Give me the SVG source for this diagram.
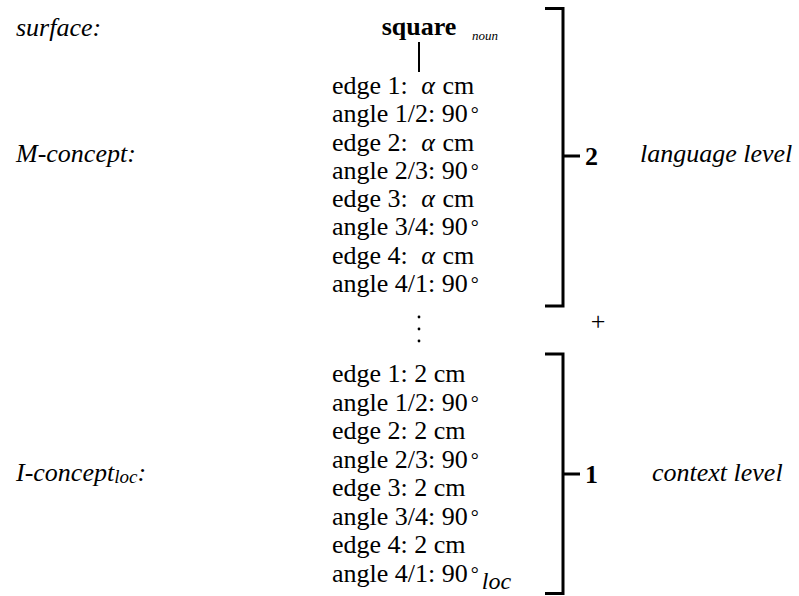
<svg xmlns="http://www.w3.org/2000/svg" width="799" height="596" viewBox="0 0 799 596">
<defs>
<style>
.br{fill:none;stroke:#000;stroke-width:3}
.ln{stroke:#000;stroke-width:2}
</style>
</defs>
<rect width="799" height="596" fill="#fff"/>
<g font-family="Liberation Serif" font-size="26" fill="#000">
<g id="labels" font-style="italic">
<text x="16" y="36">surface:</text>
<text x="16" y="162">M-concept:</text>
<text x="16" y="481">I-concept<tspan font-size="19" dy="2">loc</tspan><tspan dy="-2">:</tspan></text>
</g>
<g id="surface">
<text x="419" y="35" text-anchor="middle" font-weight="bold">square</text>
<text x="472" y="40" font-size="13" font-style="italic">noun</text>
</g>
<g id="m-concept">
<text x="332" y="94">edge 1: <tspan font-style="italic" dx="7">α</tspan><tspan dx="1"> cm</tspan></text>
<text x="332" y="122.3">angle 1/2: 90<tspan font-size="20" dx="3" dy="-1">°</tspan></text>
<text x="332" y="150.6">edge 2: <tspan font-style="italic" dx="7">α</tspan><tspan dx="1"> cm</tspan></text>
<text x="332" y="178.9">angle 2/3: 90<tspan font-size="20" dx="3" dy="-1">°</tspan></text>
<text x="332" y="207.1">edge 3: <tspan font-style="italic" dx="7">α</tspan><tspan dx="1"> cm</tspan></text>
<text x="332" y="235.4">angle 3/4: 90<tspan font-size="20" dx="3" dy="-1">°</tspan></text>
<text x="332" y="263.7">edge 4: <tspan font-style="italic" dx="7">α</tspan><tspan dx="1"> cm</tspan></text>
<text x="332" y="292">angle 4/1: 90<tspan font-size="20" dx="3" dy="-1">°</tspan></text>
</g>
<g id="i-concept">
<text x="332" y="382">edge 1: 2 cm</text>
<text x="332" y="410.5">angle 1/2: 90<tspan font-size="20" dx="3" dy="-1">°</tspan></text>
<text x="332" y="439">edge 2: 2 cm</text>
<text x="332" y="467.5">angle 2/3: 90<tspan font-size="20" dx="3" dy="-1">°</tspan></text>
<text x="332" y="496">edge 3: 2 cm</text>
<text x="332" y="524.5">angle 3/4: 90<tspan font-size="20" dx="3" dy="-1">°</tspan></text>
<text x="332" y="553">edge 4: 2 cm</text>
<text x="332" y="581.5">angle 4/1: 90<tspan font-size="20" dx="3" dy="-1">°</tspan><tspan font-style="italic" font-size="24" dx="3" dy="8">loc</tspan></text>
</g>
<g id="level2">
<text x="585" y="165" font-weight="bold">2</text>
<text x="640" y="162" font-style="italic">language level</text>
</g>
<g id="plus">
<text x="598" y="330" text-anchor="middle">+</text>
</g>
<g id="level1">
<text x="585" y="483" font-weight="bold">1</text>
<text x="652" y="481" font-style="italic">context level</text>
</g>
</g>
<g id="connectors">
<line class="ln" x1="419" y1="42" x2="419" y2="72"/>
<path class="br" d="M545,8.5H563V306H545M563,156H580"/>
<path class="br" d="M545,354H563V593.5H545M563,474H580"/>
</g>
<g id="dots">
<circle cx="419" cy="317" r="1.4"/>
<circle cx="419" cy="329" r="1.4"/>
<circle cx="419" cy="341" r="1.4"/>
</g>
</svg>
